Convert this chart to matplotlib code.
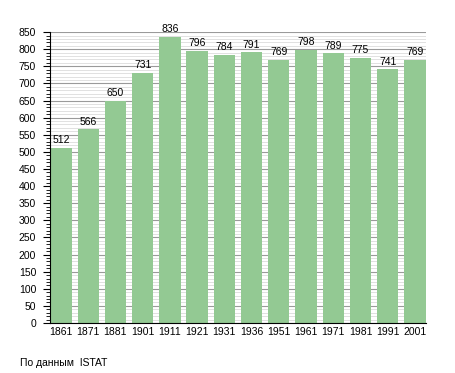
import matplotlib.pyplot as plt
from matplotlib.ticker import MultipleLocator

plt.rcParams["font.family"] = ["Liberation Sans", "DejaVu Sans"]

years = ["1861", "1871", "1881", "1901", "1911", "1921", "1931",
         "1936", "1951", "1961", "1971", "1981", "1991", "2001"]
population = [512, 566, 650, 731, 836, 796, 784, 791, 769, 798, 789, 775, 741, 769]

fig = plt.figure(figsize=(4.55, 3.73), dpi=100)
ax = fig.add_axes([0.110, 0.134, 0.826, 0.780])

x = range(len(years))
ax.bar(x, population, width=0.78, color="#93c993", zorder=2)

# подписи значений над столбцами
for xi, v in zip(x, population):
    ax.text(xi, v + 7, str(v), ha="center", va="bottom", fontsize=7.5, zorder=3)

ax.set_xlim(-0.4, len(years) - 0.6)
ax.set_ylim(0, 850)
ax.set_xticks(list(x))
ax.set_xticklabels(years)
ax.yaxis.set_major_locator(MultipleLocator(50))
ax.yaxis.set_minor_locator(MultipleLocator(10))
ax.grid(axis="y", which="major", color="#9a9a9a", linewidth=0.8, zorder=0)
ax.grid(axis="y", which="minor", color="#d4d4d4", linewidth=0.5, zorder=0)
ax.set_axisbelow(True)

ax.tick_params(axis="x", length=0, labelsize=7.5, pad=3)
ax.tick_params(axis="y", which="major", length=5, width=0.8, labelsize=7.5, pad=5)
ax.tick_params(axis="y", which="minor", length=3, width=0.6)

for s in ["top", "right"]:
    ax.spines[s].set_visible(False)
ax.spines["left"].set_linewidth(0.8)
ax.spines["bottom"].set_linewidth(0.8)

fig.text(20 / 455, 1 - 363 / 373, "По данным  ISTAT", fontsize=7.5, va="center", ha="left")

fig.savefig("out.png", dpi=100)
